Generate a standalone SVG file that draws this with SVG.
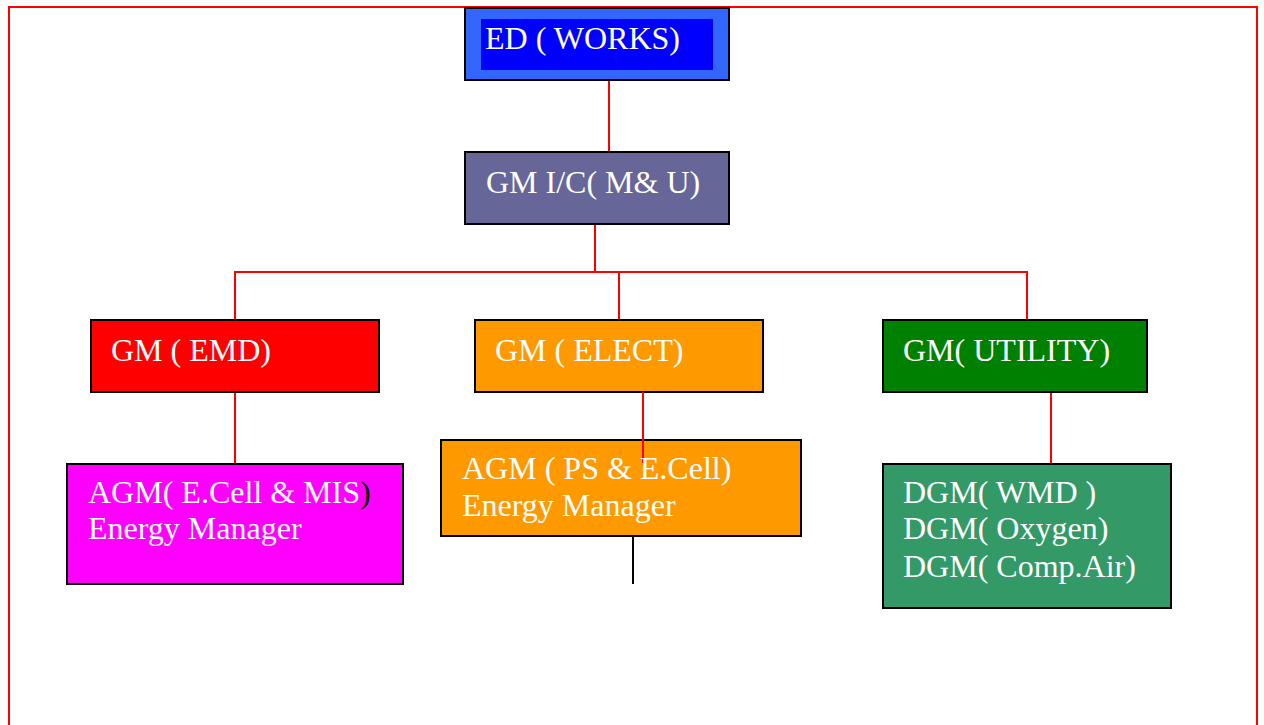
<svg xmlns="http://www.w3.org/2000/svg" width="1264" height="725" viewBox="0 0 1264 725">
<style>
.box{stroke:#000;stroke-width:2}
.t{font-family:"Liberation Serif","Times New Roman",serif;font-size:32px;fill:#fff}
.c{stroke:#f00;stroke-width:2;fill:none}
</style>
<rect width="1264" height="725" fill="#fff"/>
<path d="M9 725V7H1257V725" fill="none" stroke="#f00" stroke-width="2"/>
<g id="connectors">
<path class="c" d="M609 80V152"/>
<path class="c" d="M595 224V272M235 320V272H1027V320M619 272V320"/>
<path class="c" d="M235 392V464"/>
<path class="c" d="M1051 392V464"/>
<path d="M633 536V584" stroke="#000" stroke-width="2"/>
</g>
<g id="ed">
<rect class="box" x="465" y="8" width="264" height="72" fill="#3366ff"/>
<rect x="481" y="19" width="232" height="51" fill="#0000ff"/>
<text class="t" x="485" y="49">ED ( WORKS)</text>
</g>
<g id="gmic">
<rect class="box" x="465" y="152" width="264" height="72" fill="#666699"/>
<text class="t" x="486" y="193">GM I/C( M&amp; U)</text>
</g>
<g id="gmemd">
<rect class="box" x="91" y="320" width="288" height="72" fill="#ff0000"/>
<text class="t" x="111" y="361">GM ( EMD)</text>
</g>
<g id="gmelect">
<rect class="box" x="475" y="320" width="288" height="72" fill="#ff9900"/>
<text class="t" x="495" y="361">GM ( ELECT)</text>
</g>
<g id="gmutil">
<rect class="box" x="883" y="320" width="264" height="72" fill="#008000"/>
<text class="t" x="903" y="361">GM( UTILITY)</text>
</g>
<g id="agmemd">
<rect class="box" x="67" y="464" width="336" height="120" fill="#ff00ff"/>
<text class="t" x="88" y="503">AGM( E.Cell &amp; MIS<tspan fill="#000">)</tspan></text>
<text class="t" x="88" y="539">Energy Manager</text>
</g>
<g id="agmps">
<rect class="box" x="441" y="440" width="360" height="96" fill="#ff9900"/>
<path class="c" d="M643 392V463"/>
<text class="t" x="462" y="479">AGM ( PS &amp; E.Cell)</text>
<text class="t" x="462" y="516">Energy Manager</text>
</g>
<g id="dgm">
<rect class="box" x="883" y="464" width="288" height="144" fill="#339966"/>
<text class="t" x="903" y="503">DGM( WMD )</text>
<text class="t" x="903" y="539">DGM( Oxygen)</text>
<text class="t" x="903" y="577">DGM( Comp.Air)</text>
</g>
</svg>
